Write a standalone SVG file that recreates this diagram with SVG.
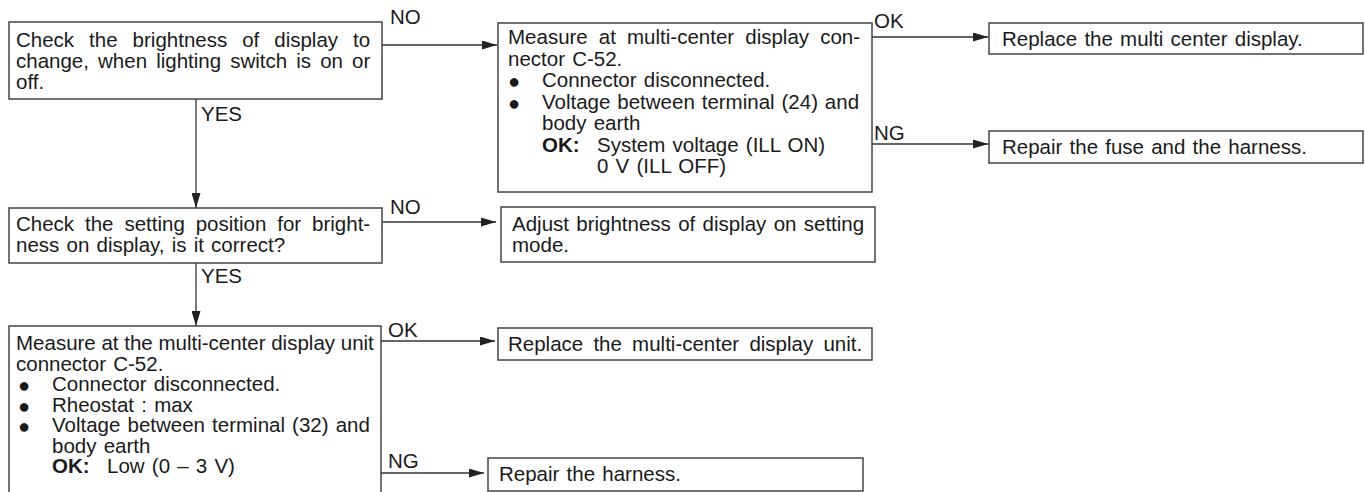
<svg xmlns="http://www.w3.org/2000/svg" width="1365" height="492" viewBox="0 0 1365 492">
<style>
text{font-family:"Liberation Sans",Arial,Helvetica,"DejaVu Sans",sans-serif;font-size:20.5px;fill:#1a1a1a;word-spacing:1.5px}
.box{fill:#fff;stroke:#444;stroke-width:1.5}
.ln{fill:none;stroke:#333;stroke-width:1.3}
.b{font-weight:bold}
.bul{font-size:20px}
</style>
<defs>
<marker id="ah" markerUnits="userSpaceOnUse" markerWidth="16" markerHeight="9" refX="15" refY="4.5" orient="auto">
<path d="M0,0 L15,4.5 L0,9 Z" fill="#222"/>
</marker>
</defs>
<rect width="1365" height="492" fill="#fff"/>
<g id="connectors">
<path class="ln" d="M382,45 H497" marker-end="url(#ah)"/>
<path class="ln" d="M196,99 V208" marker-end="url(#ah)"/>
<path class="ln" d="M382,222 H496" marker-end="url(#ah)"/>
<path class="ln" d="M196,263 V326" marker-end="url(#ah)"/>
<path class="ln" d="M872,37 H988" marker-end="url(#ah)"/>
<path class="ln" d="M872,144 H988" marker-end="url(#ah)"/>
<path class="ln" d="M381,341 H495" marker-end="url(#ah)"/>
<path class="ln" d="M381,473 H484" marker-end="url(#ah)"/>
<text x="390" y="24">NO</text>
<text x="201" y="121">YES</text>
<text x="390" y="214">NO</text>
<text x="201" y="283">YES</text>
<text x="874" y="28">OK</text>
<text x="874" y="140">NG</text>
<text x="388" y="337">OK</text>
<text x="388" y="468">NG</text>
</g>
<g id="n1">
<rect class="box" x="9" y="22" width="373" height="77"/>
<text x="16" y="46.5" style="word-spacing:9.3px">Check the brightness of display to</text>
<text x="16" y="67.5" style="word-spacing:3.4px">change, when lighting switch is on or</text>
<text x="16" y="88.5">off.</text>
</g>
<g id="n2">
<rect class="box" x="498" y="23" width="374" height="169"/>
<text x="508" y="44" style="word-spacing:5.4px">Measure at multi-center display con-</text>
<text x="508" y="65.5">nector C-52.</text>
<text x="508" y="88" class="bul">●</text>
<text x="542" y="87">Connector disconnected.</text>
<text x="508" y="109.5" class="bul">●</text>
<text x="542" y="108.5" style="word-spacing:1.2px">Voltage between terminal (24) and</text>
<text x="542" y="130">body earth</text>
<text x="542" y="151.5" class="b">OK:</text>
<text x="597" y="151.5">System voltage (ILL ON)</text>
<text x="597" y="173">0 V (ILL OFF)</text>
</g>
<g id="n3">
<rect class="box" x="989" y="23" width="374" height="31"/>
<text x="1002" y="46">Replace the multi center display.</text>
</g>
<g id="n4">
<rect class="box" x="989" y="131" width="374" height="32"/>
<text x="1002" y="154">Repair the fuse and the harness.</text>
</g>
<g id="n5">
<rect class="box" x="9" y="208" width="373" height="55"/>
<text x="16" y="231" style="word-spacing:5.2px">Check the setting position for bright-</text>
<text x="16" y="252">ness on display, is it correct?</text>
</g>
<g id="n6">
<rect class="box" x="501" y="207" width="374" height="55"/>
<text x="512" y="231" style="word-spacing:1.6px">Adjust brightness of display on setting</text>
<text x="512" y="252">mode.</text>
</g>
<g id="n7">
<rect class="box" x="9" y="326" width="372" height="190"/>
<text x="16" y="350" style="word-spacing:0px">Measure at the multi-center display unit</text>
<text x="16" y="370.5">connector C-52.</text>
<text x="18" y="392" class="bul">●</text>
<text x="52" y="391">Connector disconnected.</text>
<text x="18" y="412.5" class="bul">●</text>
<text x="52" y="411.5">Rheostat : max</text>
<text x="18" y="433" class="bul">●</text>
<text x="52" y="432" style="word-spacing:1.4px">Voltage between terminal (32) and</text>
<text x="52" y="452.5">body earth</text>
<text x="52" y="473" class="b">OK:</text>
<text x="107" y="473">Low (0 – 3 V)</text>
</g>
<g id="n8">
<rect class="box" x="498" y="328" width="374" height="32"/>
<text x="508" y="351" style="word-spacing:4.5px">Replace the multi-center display unit.</text>
</g>
<g id="n9">
<rect class="box" x="488" y="458" width="375" height="33"/>
<text x="499" y="481">Repair the harness.</text>
</g>
</svg>
